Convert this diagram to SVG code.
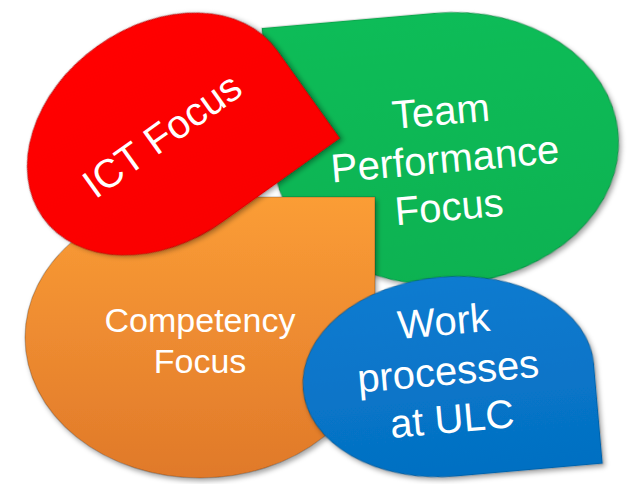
<svg xmlns="http://www.w3.org/2000/svg" width="628" height="484" viewBox="0 0 628 484">
  <defs>
    <filter id="shadow" x="-10%" y="-10%" width="125%" height="125%">
      <feDropShadow dx="2" dy="3" stdDeviation="2.5" flood-color="#000" flood-opacity="0.35"/>
    </filter>
    <linearGradient id="gGreen" x1="0" y1="0" x2="0" y2="1">
      <stop offset="0" stop-color="#0DBC58"/>
      <stop offset="1" stop-color="#07B251"/>
    </linearGradient>
    <linearGradient id="gOrange" x1="0" y1="0" x2="0" y2="1">
      <stop offset="0" stop-color="#FB9D36"/>
      <stop offset="1" stop-color="#E0792A"/>
    </linearGradient>
    <linearGradient id="gRed" x1="0" y1="0" x2="0" y2="1">
      <stop offset="0" stop-color="#FF0404"/>
      <stop offset="1" stop-color="#FA0000"/>
    </linearGradient>
    <linearGradient id="gBlue" x1="0" y1="0" x2="0" y2="1">
      <stop offset="0" stop-color="#0A7BD0"/>
      <stop offset="1" stop-color="#0570C2"/>
    </linearGradient>
  </defs>
  <style>
    .shape { filter: url(#shadow); stroke: rgba(0,0,0,0.22); stroke-width: 1.2; }
    .label { fill: #FFFFFF; font-family: "Liberation Sans", Arial, sans-serif; text-anchor: middle; }
  </style>
  <rect width="628" height="484" fill="#FFFFFF"/>
  <g id="connectors"/>

  <g id="node-team" transform="translate(446,148.5) rotate(-5)">
    <path class="shape" fill="url(#gGreen)" d="M173,0 A173,136 0 0 1 0,136 A173,136 0 0 1 -173,0 L-173,-136 L0,-136 A173,136 0 0 1 173,0 Z"/>
    <text class="label" font-size="40" x="-2" y="-24">Team</text>
    <text class="label" font-size="40" x="-2" y="24">Performance</text>
    <text class="label" font-size="40" x="-2" y="72">Focus</text>
  </g>

  <g id="node-competency" transform="translate(200,337.5)">
    <path class="shape" fill="url(#gOrange)" d="M-175,0 A175,140.5 0 0 1 0,-140.5 L175,-140.5 L175,0 A175,140.5 0 0 1 0,140.5 A175,140.5 0 0 1 -175,0 Z"/>
    <text class="label" font-size="34" x="0" y="-5.5">Competency</text>
    <text class="label" font-size="34" x="0" y="35.5">Focus</text>
  </g>

  <g id="node-ict" transform="translate(160,134) rotate(-35.5)">
    <path class="shape" fill="url(#gRed)" d="M-144,0 A144,108 0 0 1 0,-108 A144,108 0 0 1 144,0 L144,108 L0,108 A144,108 0 0 1 -144,0 Z"/>
    <text class="label" font-size="40" x="1" y="16">ICT Focus</text>
  </g>

  <g id="node-work" transform="translate(448.5,376.7) rotate(-5)">
    <path class="shape" fill="url(#gBlue)" d="M-146,0 A146,100 0 0 1 0,-100 A146,100 0 0 1 146,0 L146,100 L0,100 A146,100 0 0 1 -146,0 Z"/>
    <text class="label" font-size="40" x="0" y="-42">Work</text>
    <text class="label" font-size="40" x="0" y="8">processes</text>
    <text class="label" font-size="40" x="0" y="56">at ULC</text>
  </g>
</svg>
